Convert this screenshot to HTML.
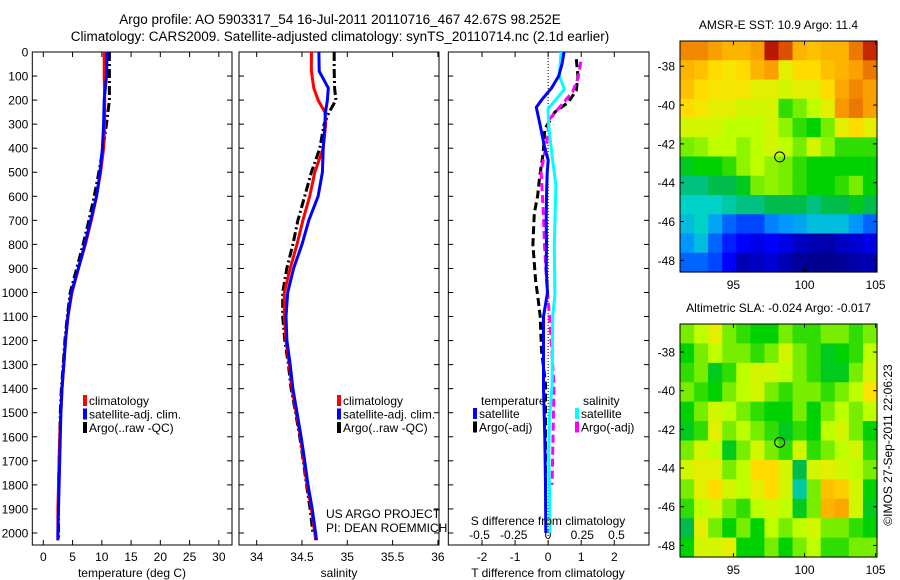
<!DOCTYPE html>
<html><head><meta charset="utf-8"><style>
html,body{margin:0;padding:0;background:#fff}
svg{display:block;font-family:"Liberation Sans",sans-serif}
</style></head><body>
<svg id="fig" width="900" height="580" viewBox="0 0 900 580" xmlns="http://www.w3.org/2000/svg">
<rect width="900" height="580" fill="#fff"/>
<text x="340" y="24" font-size="13.5" text-anchor="middle">Argo profile: AO 5903317_54 16-Jul-2011 20110716_467 42.67S 98.252E</text>
<text x="340" y="41" font-size="13.5" text-anchor="middle">Climatology: CARS2009. Satellite-adjusted climatology: synTS_20110714.nc (2.1d earlier)</text>
<g id="g"></g>
</svg>
<script>
// ---------- data ----------
const depthsT = [0,100,200,300,400,500,600,700,800,900,1000,1100,1200,1300,1400,1500,1600,1700,1800,1900,2000,2030];
const tempClim = [10.4,10.4,10.5,10.5,10.3,9.8,9.1,8.2,7.2,6.0,4.9,4.2,3.8,3.5,3.2,3.0,2.8,2.7,2.6,2.5,2.5,2.5];
const tempSat  = [10.9,10.8,10.4,10.3,10.1,9.7,9.1,8.1,7.1,6.0,4.8,4.2,3.8,3.5,3.2,3.0,2.9,2.8,2.7,2.6,2.5,2.5];
const tempArgo = [11.3,11.3,11.3,10.8,10.2,9.5,8.7,7.8,6.8,5.7,4.6,4.1,3.7,3.4,3.1,2.9,2.8,2.7,2.6,2.6,2.6,2.6];
const depthsS = [0,80,150,200,250,300,400,500,600,700,800,900,1000,1100,1200,1300,1400,1500,1600,1700,1800,1900,2000,2030];
const salClim = [34.604,34.604,34.63,34.678,34.753,34.762,34.734,34.641,34.585,34.51,34.445,34.37,34.305,34.305,34.324,34.36,34.39,34.436,34.482,34.52,34.557,34.604,34.641,34.65];
const salSat  = [34.687,34.69,34.79,34.78,34.76,34.753,34.734,34.725,34.678,34.575,34.5,34.408,34.342,34.324,34.334,34.37,34.40,34.445,34.49,34.53,34.566,34.613,34.65,34.66];
const salArgo = [34.855,34.855,34.86,34.874,34.80,34.744,34.697,34.604,34.53,34.455,34.40,34.333,34.287,34.287,34.31,34.35,34.38,34.43,34.475,34.515,34.55,34.59,34.62];
const depthsDT = [0,50,100,150,200,230,300,400,450,500,600,700,800,900,1000,1100,1200,1400,1600,1800,2000];
const dTsat = [0.48,0.42,0.32,0.1,-0.2,-0.36,-0.25,-0.1,0,-0.03,-0.05,-0.06,-0.05,-0.06,-0.02,-0.14,-0.14,-0.14,-0.1,-0.08,-0.07];
const depthsDTA = [30,100,160,210,250,320,420,520,600,670,800,950,1030,1100,1240,1380,1530,1680,1800];
const dTargo = [0.85,0.9,0.85,0.6,0.2,-0.1,-0.15,-0.26,-0.32,-0.42,-0.46,-0.38,-0.3,-0.24,-0.2,-0.08,-0.08,-0.08,-0.08];
const depthsDS = [0,100,155,196,237,309,452,553,810,1011,1097,1384,1527,1670,1957,2000];
const dSsat = [0.095,0.083,0.12,0.06,0,0.005,0.034,0.058,0.046,0.05,0.034,0.03,0.01,0.005,0.015,0.015];
const depthsDSA = [40,108,165,223,280,380,495,667,810,954,1097,1384,1670,1800];
const dSargo = [0.24,0.22,0.18,0.095,0.01,-0.01,-0.05,-0.034,-0.025,-0.01,0.01,0.044,0.034,0.03];
const tempTicks = [0,5,10,15,20,25,30];
const salTicks = [34,34.5,35,35.5,36];
const salTickLabels = ["34","34.5","35","35.5","36"];
const dTTicks = [-2,-1,0,1,2];
const dSTicks = [-0.5,-0.25,0,0.25,0.5];
const dSTickLabels = ["-0.5","-0.25","0","0.25","0.5"];
const depthTicks = [0,100,200,300,400,500,600,700,800,900,1000,1100,1200,1300,1400,1500,1600,1700,1800,1900,2000];
const lonTicks = [95,100,105];
const latTicks = [-38,-40,-42,-44,-46,-48];
const sstGrid = [
[0.78,0.78,0.75,0.72,0.72,0.75,0.92,0.85,0.72,0.7,0.72,0.72,0.8,0.9],
[0.72,0.7,0.66,0.64,0.66,0.72,0.75,0.62,0.66,0.66,0.7,0.72,0.75,0.8],
[0.7,0.66,0.64,0.64,0.64,0.62,0.62,0.6,0.62,0.62,0.66,0.74,0.78,0.75],
[0.66,0.64,0.62,0.62,0.6,0.6,0.6,0.52,0.55,0.58,0.62,0.76,0.8,0.75],
[0.6,0.6,0.6,0.58,0.58,0.58,0.6,0.56,0.52,0.5,0.55,0.62,0.66,0.62],
[0.55,0.56,0.58,0.58,0.56,0.58,0.6,0.58,0.55,0.6,0.56,0.52,0.52,0.52],
[0.48,0.5,0.5,0.52,0.56,0.58,0.56,0.55,0.52,0.5,0.5,0.5,0.5,0.5],
[0.42,0.42,0.45,0.45,0.48,0.55,0.56,0.55,0.52,0.5,0.5,0.52,0.55,0.5],
[0.38,0.38,0.38,0.4,0.42,0.42,0.45,0.45,0.45,0.42,0.45,0.45,0.48,0.45],
[0.35,0.38,0.32,0.25,0.22,0.22,0.28,0.3,0.32,0.35,0.35,0.35,0.3,0.25],
[0.3,0.35,0.25,0.18,0.15,0.12,0.15,0.12,0.08,0.06,0.05,0.08,0.1,0.12],
[0.25,0.25,0.22,0.15,0.06,0.08,0.1,0.06,0.03,0.02,0.02,0.03,0.05,0.06]];
const slaGrid = [
[0.55,0.58,0.62,0.55,0.52,0.5,0.5,0.55,0.52,0.52,0.55,0.55,0.52,0.55],
[0.5,0.55,0.58,0.55,0.55,0.52,0.55,0.6,0.55,0.52,0.48,0.5,0.52,0.58],
[0.52,0.55,0.48,0.52,0.58,0.6,0.6,0.58,0.55,0.52,0.48,0.48,0.55,0.6],
[0.55,0.52,0.5,0.55,0.58,0.6,0.55,0.52,0.55,0.55,0.52,0.55,0.58,0.65],
[0.5,0.55,0.6,0.58,0.55,0.52,0.5,0.5,0.55,0.5,0.55,0.58,0.55,0.58],
[0.48,0.52,0.62,0.55,0.58,0.55,0.52,0.48,0.52,0.5,0.58,0.6,0.55,0.5],
[0.55,0.6,0.58,0.48,0.55,0.6,0.55,0.52,0.6,0.52,0.55,0.58,0.6,0.52],
[0.6,0.62,0.62,0.55,0.58,0.66,0.66,0.6,0.45,0.6,0.62,0.6,0.58,0.55],
[0.55,0.62,0.66,0.6,0.58,0.62,0.66,0.6,0.4,0.55,0.7,0.68,0.6,0.5],
[0.52,0.58,0.6,0.55,0.52,0.58,0.6,0.58,0.48,0.55,0.72,0.74,0.6,0.48],
[0.45,0.62,0.55,0.5,0.55,0.5,0.58,0.55,0.58,0.6,0.55,0.55,0.52,0.5],
[0.5,0.6,0.6,0.62,0.5,0.5,0.55,0.5,0.55,0.58,0.52,0.52,0.55,0.55]];
const argoLon = 98.252, argoLat = -42.67;

// ---------- drawing ----------
const NS = "http://www.w3.org/2000/svg";
const G = document.getElementById('g');
function mk(tag, attrs, parent){const e=document.createElementNS(NS,tag);for(const k in attrs)e.setAttribute(k,attrs[k]);(parent||G).appendChild(e);return e;}
function txt(x,y,s,anchor,size,parent){const t=mk('text',{x:x,y:y,'font-size':size||12,'text-anchor':anchor||'start'},parent);t.textContent=s;return t;}

const TOP=52, BOT=545;
const yD = d => TOP + d*(BOT-TOP)/2050;

function panel(name,x0,x1,xmin,xmax){
  const sx = v => x0 + (v-xmin)*(x1-x0)/(xmax-xmin);
  const g = mk('g',{});
  
  
  const r = mk('rect',{x:x0,y:TOP,width:x1-x0,height:BOT-TOP,fill:'none',stroke:'#000','stroke-width':1},g);
  
  
  return {g,sx};
}
function ticksY(p,x0,x1,labels){
  depthTicks.forEach(d=>{
    const y=yD(d);
    mk('line',{x1:x0,x2:x0+5,y1:y,y2:y,stroke:'#000'},p.g);
    mk('line',{x1:x1,x2:x1-5,y1:y,y2:y,stroke:'#000'},p.g);
    if(labels){const t=txt(x0-4,y+4.5,String(d),'end',12,p.g);
      
      }
  });
}
function ticksX(p,vals,labs,ly){
  vals.forEach((v,i)=>{
    const x=p.sx(v);
    mk('line',{x1:x,x2:x,y1:BOT,y2:BOT-5,stroke:'#000'},p.g);
    mk('line',{x1:x,x2:x,y1:TOP,y2:TOP+5,stroke:'#000'},p.g);
    if(labs){const t=txt(x,ly,labs[i],'middle',12,p.g);
      
      }
  });
}
function line(p,sxf,vals,deps,color,dash,name){
  const pts = vals.map((v,i)=>sxf(v).toFixed(1)+','+yD(deps[i]).toFixed(1)).join(' ');
  const a={points:pts,fill:'none',stroke:color,'stroke-width':3,'stroke-linejoin':'miter'};
  if(dash)a['stroke-dasharray']=dash;
  const e=mk('polyline',a,p.g);
  
  
}
function legend(p,x,y,items){
  items.forEach((it,i)=>{
    const yy=y+i*13.5;
    const m=mk('rect',{x:x-3,y:yy-10,width:4,height:11,fill:it[1]},p.g);
    
    
    const t=txt(x+3,yy,it[0],'start',12,p.g);
    
    
  });
}

// Panel 1: temperature
const p1 = panel('temperature-panel',32.3,232,-1.88,32.25);
ticksY(p1,32.3,232,true);
ticksX(p1,tempTicks,tempTicks.map(String),561);
line(p1,p1.sx,tempArgo,depthsT,'#000','9,3,2,3','temp-argo-line');
line(p1,p1.sx,tempClim,depthsT,'#f00',null,'temp-climatology-line');
line(p1,p1.sx,tempSat,depthsT,'#00f',null,'temp-satellite-line');
legend(p1,86,405,[['climatology','#f00'],['satellite-adj. clim.','#00f'],['Argo(..raw -QC)','#000']]);
let t=txt(132,577,'temperature (deg C)','middle',12,p1.g);



// Panel 2: salinity
const p2 = panel('salinity-panel',239,439,33.805,36.012);
ticksY(p2,239,439,false);
ticksX(p2,salTicks,salTickLabels,561);
line(p2,p2.sx,salArgo,depthsS.slice(0,salArgo.length),'#000','9,3,2,3','sal-argo-line');
line(p2,p2.sx,salClim,depthsS,'#f00',null,'sal-climatology-line');
line(p2,p2.sx,salSat,depthsS,'#00f',null,'sal-satellite-line');
legend(p2,340,405,[['climatology','#f00'],['satellite-adj. clim.','#00f'],['Argo(..raw -QC)','#000']]);
t=txt(339,577,'salinity','middle',12,p2.g);


t=txt(326,518,'US ARGO PROJECT','start',12,p2.g);


t=txt(326,532,'PI: DEAN ROEMMICH','start',12,p2.g);



// Panel 3: differences
const p3 = panel('difference-panel',448.3,649,-3.02,3.05);
const sxS = v => 548 + v*137;
ticksY(p3,448.3,649,false);
ticksX(p3,dTTicks,dTTicks.map(String),561);
dSTicks.forEach((v,i)=>{const tt=txt(sxS(v),539,dSTickLabels[i],'middle',12,p3.g);
  
  });
mk('line',{x1:p3.sx(0),x2:p3.sx(0),y1:TOP,y2:BOT,stroke:'#000','stroke-dasharray':'1,2'},p3.g);
line(p3,p3.sx,dTargo,depthsDTA,'#000','8,4','dT-argo-line');
line(p3,sxS,dSargo,depthsDSA,'#f0f','8,4','dS-argo-line');
line(p3,sxS,dSsat,depthsDS,'#0ff',null,'dS-satellite-line');
line(p3,p3.sx,dTsat,depthsDT,'#00f',null,'dT-satellite-line');
t=txt(481,405,'temperature','start',12,p3.g);


t=txt(583,405,'salinity','start',12,p3.g);


legend(p3,476,418,[['satellite','#00f'],['Argo(-adj)','#000']]);
legend(p3,578,418,[['satellite','#0ff'],['Argo(-adj)','#f0f']]);
t=txt(548,525,'S difference from climatology','middle',12,p3.g);


t=txt(548,577,'T difference from climatology','middle',12,p3.g);



// Maps
const cmapStops = [[0,0,0,128],[0.15,0,0,255],[0.3,0,150,255],[0.38,0,210,200],[0.44,0,185,90],[0.5,0,210,0],[0.58,190,255,0],[0.65,255,225,0],[0.75,250,160,0],[0.85,220,80,0],[0.95,170,0,0],[1,140,0,0]];
function cmap(v){
  v=Math.max(0,Math.min(1,v));
  for(let i=1;i<cmapStops.length;i++){
    const a=cmapStops[i-1],b=cmapStops[i];
    if(v<=b[0]){const f=(v-a[0])/(b[0]-a[0]);
      return 'rgb('+[1,2,3].map(k=>Math.round(a[k]+(b[k]-a[k])*f)).join(',')+')';}
  }
  return 'rgb(140,0,0)';
}
function map(name,title,grid,y0,y1,latTop,latBot){
  const x0=680,x1=877,lonL=91.24,lonR=105.1;
  const sx=v=>x0+(v-lonL)*(x1-x0)/(lonR-lonL);
  const sy=v=>y0+(latTop-v)*(y1-y0)/(latTop-latBot);
  const g=mk('g',{});
  
  
  const nr=grid.length,nc=grid[0].length;
  const cw=(x1-x0)/nc,ch=(y1-y0)/nr;
  grid.forEach((row,i)=>row.forEach((v,j)=>{
    const c=mk('rect',{x:(x0+j*cw).toFixed(2),y:(y0+i*ch).toFixed(2),width:(cw+0.6).toFixed(2),height:(ch+0.6).toFixed(2),fill:cmap(v)},g);
    
    
  }));
  const f=mk('rect',{x:x0,y:y0,width:x1-x0,height:y1-y0,fill:'none',stroke:'#000'},g);
  
  
  latTicks.forEach(l=>{const y=sy(l);
    mk('line',{x1:x0,x2:x0+4,y1:y,y2:y,stroke:'#000'},g);
    mk('line',{x1:x1,x2:x1-4,y1:y,y2:y,stroke:'#000'},g);
    const tt=txt(x0-5,y+4.5,String(l),'end',12,g);
    
    });
  lonTicks.forEach(l=>{const x=sx(l);
    mk('line',{x1:x,x2:x,y1:y1,y2:y1-4,stroke:'#000'},g);
    mk('line',{x1:x,x2:x,y1:y0,y2:y0+4,stroke:'#000'},g);
    const tt=txt(x,y1+17,String(l),'middle',12,g);
    
    });
  const c=mk('circle',{cx:sx(argoLon),cy:sy(argoLat),r:5,fill:'none',stroke:'#000'},g);
  
  
  const tt=txt((x0+x1)/2,y0-12,title,'middle',12,g);
  
  
}
map('sst-map','AMSR-E SST: 10.9 Argo: 11.4',sstGrid,41,272,-36.7,-48.6);
map('sla-map','Altimetric SLA: -0.024 Argo: -0.017',slaGrid,324,557,-36.55,-48.6);
t=txt(0,0,'©IMOS 27-Sep-2011 22:06:23','middle',12);
t.setAttribute('transform','translate(892,445) rotate(-90)');


</script>
</body></html>
